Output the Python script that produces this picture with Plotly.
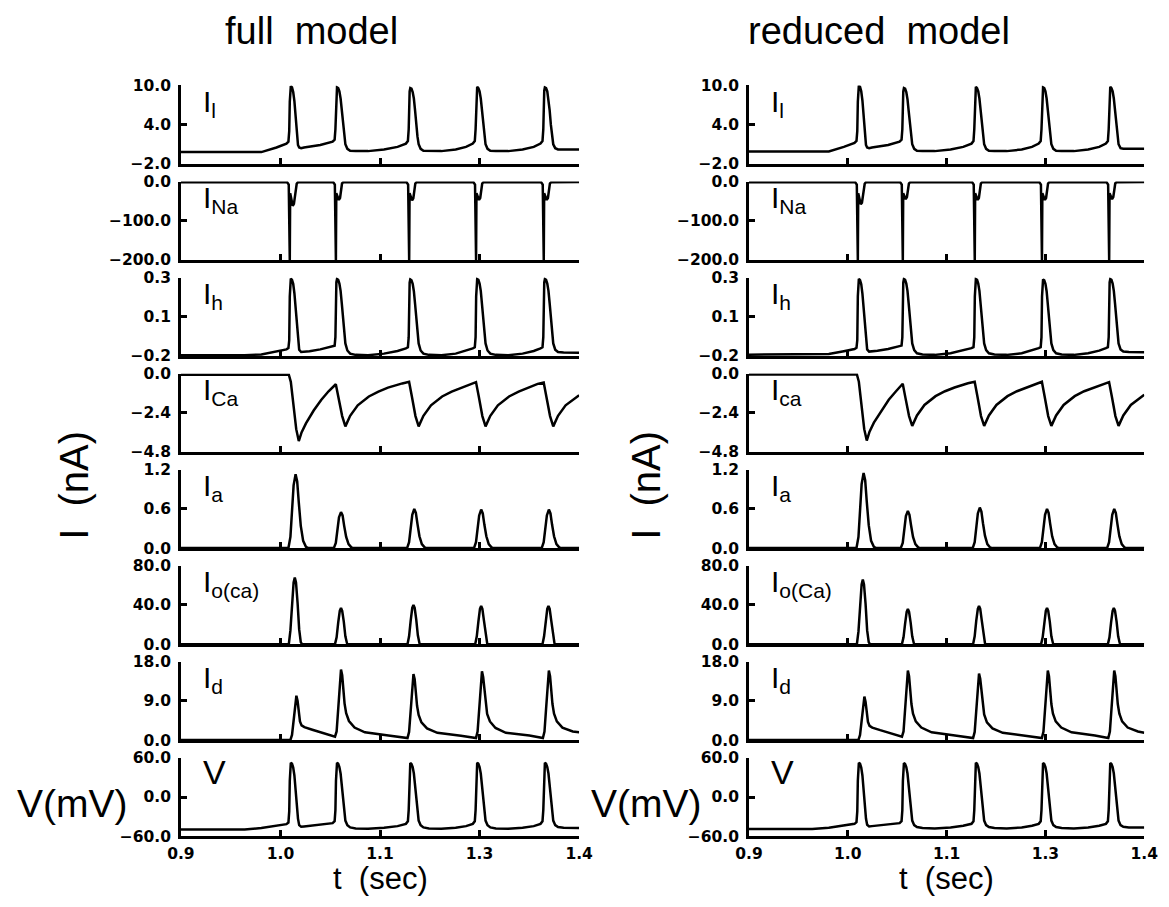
import plotly.graph_objects as go

W, H = 1169, 907

# ---------------- axes / labels ----------------
COLUMN_TITLES = ["full  model", "reduced  model"]
PANEL_NAMES_FULL = ["I<sub>l</sub>", "I<sub>Na</sub>", "I<sub>h</sub>", "I<sub>Ca</sub>",
                    "I<sub>a</sub>", "I<sub>o(ca)</sub>", "I<sub>d</sub>", "V"]
PANEL_NAMES_RED = ["I<sub>l</sub>", "I<sub>Na</sub>", "I<sub>h</sub>", "I<sub>ca</sub>",
                   "I<sub>a</sub>", "I<sub>o(Ca)</sub>", "I<sub>d</sub>", "V"]
Y_RANGES = [(-2.0, 10.0), (-200.0, 0.0), (-0.2, 0.3), (-4.8, 0.0),
            (0.0, 1.2), (0.0, 80.0), (0.0, 18.0), (-60.0, 60.0)]
Y_TICK_TEXT = [["\u22122.0", "4.0", "10.0"],
               ["\u2212200.0", "\u2212100.0", "0.0"],
               ["\u22120.2", "0.1", "0.3"],
               ["\u22124.8", "\u22122.4", "0.0"],
               ["0.0", "0.6", "1.2"],
               ["0.0", "40.0", "80.0"],
               ["0.0", "9.0", "18.0"],
               ["\u221260.0", "0.0", "60.0"]]
T_RANGE = (0.9, 1.4)
T_TICKS = [0.9, 1.025, 1.15, 1.275, 1.4]
T_TICK_TEXT = ["0.9", "1.0", "1.1", "1.3", "1.4"]

# ================= full model =================
# shared time base of the V-shaped traces (V, I_l, I_h)
T_SPK_FULL = [0.900, 0.980, 1.001, 1.020,
              1.0325, 1.035, 1.036, 1.0367, 1.0372, 1.038, 1.0395, 1.041, 1.0425, 1.044, 1.0455, 1.047, 1.0485, 1.051, 1.0545, 1.0615,
              1.075,
              1.0905, 1.093, 1.094, 1.0947, 1.0952, 1.096, 1.0975, 1.099, 1.1005, 1.102, 1.1035, 1.105, 1.1065, 1.109, 1.1125, 1.1195,
              1.135, 1.155, 1.172,
              1.1825, 1.185, 1.186, 1.1867, 1.1872, 1.188, 1.1895, 1.191, 1.1925, 1.194, 1.1955, 1.197, 1.1985, 1.201, 1.2045, 1.2115,
              1.227, 1.245, 1.258,
              1.2665, 1.269, 1.270, 1.2707, 1.2712, 1.272, 1.2735, 1.275, 1.2765, 1.278, 1.2795, 1.281, 1.2825, 1.285, 1.2885, 1.2955,
              1.311, 1.329, 1.343,
              1.3515, 1.354, 1.355, 1.3557, 1.3562, 1.357, 1.3585, 1.360, 1.3615, 1.363, 1.3645, 1.366, 1.3675, 1.370, 1.3735, 1.3805,
              1.390, 1.400]
V_FULL = [-49.5, -49.5, -47.5, -44.5,
          -41.5, -39.0, -22.0, 25.0, 45.0, 52.5, 51.0, 45.0, 33.0, 12.0, -15.0, -33.0, -43.0, -45.5, -45.0, -44.0,
          -42.5,
          -40.0, -37.0, -20.0, 25.0, 45.0, 52.5, 51.0, 46.0, 36.0, 18.0, -5.0, -24.0, -36.0, -43.0, -46.5, -48.0,
          -48.5, -47.0, -44.5,
          -41.0, -37.0, -20.0, 25.0, 45.0, 52.0, 50.5, 46.0, 36.0, 18.0, -5.0, -24.0, -36.0, -43.0, -46.5, -48.0,
          -48.5, -47.0, -44.5,
          -41.0, -37.0, -20.0, 25.0, 45.0, 52.5, 51.0, 46.0, 36.0, 18.0, -5.0, -24.0, -36.0, -43.0, -46.5, -48.0,
          -48.5, -47.0, -44.5,
          -41.0, -37.0, -20.0, 25.0, 45.0, 52.5, 51.0, 46.0, 36.0, 18.0, -5.0, -24.0, -36.0, -43.0, -46.0, -47.0,
          -47.5, -47.5]
I_L_FULL = [-0.2, -0.2, -0.2, 0.5,
            1.1, 1.4, 3.0, 7.5, 9.3, 9.9, 9.7, 9.0, 7.6, 5.0, 2.3, 0.9, 0.5, 0.4, 0.5, 0.6,
            0.9,
            1.4, 1.7, 3.3, 7.5, 9.2, 9.7, 9.6, 9.1, 8.0, 6.2, 4.0, 2.2, 1.0, 0.3, 0.0, -0.05,
            -0.05, 0.2, 0.6,
            1.1, 1.5, 3.3, 7.5, 9.1, 9.6, 9.5, 9.0, 8.0, 6.2, 4.0, 2.2, 1.0, 0.3, 0.0, -0.05,
            -0.05, 0.2, 0.6,
            1.1, 1.5, 3.3, 7.5, 9.2, 9.8, 9.6, 9.1, 8.0, 6.2, 4.0, 2.2, 1.0, 0.3, 0.0, -0.05,
            -0.05, 0.2, 0.6,
            1.1, 1.5, 3.3, 7.5, 9.2, 9.7, 9.6, 9.1, 8.0, 6.2, 4.0, 2.2, 1.0, 0.4, 0.2, 0.2,
            0.2, 0.2]
I_H_FULL = [-0.195, -0.195, -0.190, -0.172,
            -0.158, -0.150, -0.100, 0.180, 0.270, 0.293, 0.285, 0.260, 0.200, 0.100, -0.020, -0.110, -0.160, -0.175, -0.174, -0.170,
            -0.158,
            -0.142, -0.135, -0.080, 0.180, 0.270, 0.290, 0.285, 0.262, 0.215, 0.135, 0.030, -0.060, -0.120, -0.165, -0.185, -0.193,
            -0.195, -0.185, -0.168,
            -0.152, -0.145, -0.080, 0.180, 0.268, 0.288, 0.283, 0.260, 0.213, 0.133, 0.030, -0.060, -0.120, -0.165, -0.185, -0.193,
            -0.195, -0.185, -0.168,
            -0.152, -0.145, -0.080, 0.180, 0.270, 0.290, 0.285, 0.262, 0.215, 0.135, 0.030, -0.060, -0.120, -0.165, -0.185, -0.193,
            -0.195, -0.185, -0.168,
            -0.152, -0.145, -0.080, 0.180, 0.270, 0.290, 0.285, 0.262, 0.215, 0.135, 0.030, -0.060, -0.120, -0.160, -0.175, -0.178,
            -0.180, -0.180]
T_NA_FULL = [0.900,
             1.0334, 1.0354, 1.0361, 1.0367, 1.0372, 1.0389, 1.0404, 1.0419, 1.0439, 1.0454, 1.0469,
             1.0913, 1.0933, 1.0940, 1.0946, 1.0951, 1.0968, 1.0983, 1.0998, 1.1011, 1.1023, 1.1038,
             1.1833, 1.1853, 1.1860, 1.1866, 1.1871, 1.1888, 1.1903, 1.1918, 1.1931, 1.1943, 1.1958,
             1.2673, 1.2693, 1.2700, 1.2706, 1.2711, 1.2728, 1.2743, 1.2758, 1.2771, 1.2783, 1.2798,
             1.3523, 1.3543, 1.3550, 1.3556, 1.3561, 1.3578, 1.3593, 1.3608, 1.3621, 1.3633, 1.3648,
             1.400]
I_NA_FULL = [-2,
             -2, -8, -200, -200, -30, -50, -62, -57, -30, -6, -2,
             -2, -8, -200, -200, -30, -40, -47, -42, -20, -5, -2,
             -2, -8, -200, -200, -30, -40, -48, -43, -20, -5, -2,
             -2, -8, -200, -200, -30, -40, -47, -42, -20, -5, -2,
             -2, -8, -200, -200, -30, -40, -47, -42, -20, -5, -2,
             -1]
T_CA_FULL = [0.900, 1.0355, 1.038, 1.0415, 1.0448, 1.048, 1.0515, 1.057, 1.0667, 1.0761, 1.0854, 1.0945,
             1.098, 1.1025, 1.1065, 1.1095, 1.1125, 1.122, 1.136, 1.148, 1.160, 1.178, 1.1865,
             1.190, 1.1945, 1.1985, 1.2015, 1.2045, 1.214, 1.228, 1.240, 1.252, 1.264, 1.2705,
             1.274, 1.2785, 1.2825, 1.2855, 1.2885, 1.298, 1.312, 1.324, 1.336, 1.348, 1.3555,
             1.359, 1.3635, 1.3675, 1.3705, 1.3735, 1.383, 1.397, 1.400]
I_CA_FULL = [-0.07, -0.07, -0.5, -2.0, -3.4, -4.13, -3.6, -3.05, -2.26, -1.61, -1.08, -0.65,
             -1.5, -2.6, -3.23, -2.9, -2.58, -1.94, -1.40, -1.10, -0.86, -0.60, -0.50,
             -1.4, -2.6, -3.23, -2.9, -2.58, -1.94, -1.40, -1.10, -0.86, -0.62, -0.52,
             -1.4, -2.6, -3.23, -2.9, -2.58, -1.94, -1.40, -1.10, -0.86, -0.63, -0.54,
             -1.4, -2.6, -3.23, -2.9, -2.58, -1.94, -1.40, -1.33]
T_A_FULL = [0.900,
            1.035, 1.0375, 1.0395, 1.0415, 1.044, 1.046, 1.048, 1.0505, 1.0535, 1.057, 1.060,
            1.092, 1.0945, 1.0965, 1.0985, 1.101, 1.103, 1.105, 1.1075, 1.1105, 1.114, 1.117,
            1.184, 1.1865, 1.1885, 1.1905, 1.193, 1.195, 1.197, 1.1995, 1.2025, 1.206, 1.209,
            1.268, 1.2705, 1.2725, 1.2745, 1.277, 1.279, 1.281, 1.2835, 1.2865, 1.290, 1.293,
            1.353, 1.3555, 1.3575, 1.3595, 1.362, 1.364, 1.366, 1.3685, 1.3715, 1.375, 1.378,
            1.400]
I_A_FULL = [0,
            0, 0.17, 0.5, 0.96, 1.13, 1.02, 0.7, 0.34, 0.11, 0.02, 0,
            0, 0.08, 0.25, 0.47, 0.55, 0.5, 0.34, 0.17, 0.06, 0.01, 0,
            0, 0.09, 0.27, 0.51, 0.6, 0.54, 0.37, 0.18, 0.06, 0.01, 0,
            0, 0.09, 0.27, 0.5, 0.59, 0.53, 0.36, 0.18, 0.06, 0.01, 0,
            0, 0.09, 0.27, 0.5, 0.59, 0.53, 0.36, 0.18, 0.06, 0.01, 0,
            0]
T_O_FULL = [0.900,
            1.0355, 1.0375, 1.0395, 1.0415, 1.043, 1.0445, 1.0465, 1.0485, 1.0505, 1.052,
            1.0935, 1.0955, 1.0975, 1.0995, 1.101, 1.1025, 1.1045, 1.1065, 1.1085, 1.110,
            1.1845, 1.1865, 1.1885, 1.1905, 1.192, 1.1935, 1.1955, 1.1975, 1.1995, 1.201,
            1.2695, 1.2715, 1.2735, 1.2755, 1.277, 1.2785, 1.2805, 1.2825, 1.2845, 1.286,
            1.354, 1.356, 1.358, 1.360, 1.3615, 1.363, 1.365, 1.367, 1.369, 1.3705,
            1.400]
I_O_FULL = [0,
            0, 14, 41, 63, 68, 63, 42, 15, 2, 0,
            0, 7, 22, 34, 37, 34, 23, 8, 1, 0,
            0, 8, 24, 37, 40, 37, 25, 9, 1, 0,
            0, 8, 23, 36, 39, 36, 24, 9, 1, 0,
            0, 8, 23, 36, 39, 36, 24, 9, 1, 0,
            0]
T_D_FULL = [0.900, 1.0375,
            1.0395, 1.0415, 1.0435, 1.045, 1.0465, 1.048, 1.0495, 1.0515, 1.055,
            1.065, 1.080, 1.0935,
            1.0955, 1.0975, 1.0995, 1.101, 1.1025, 1.104, 1.1055, 1.1075, 1.111, 1.118, 1.131, 1.1606, 1.1845,
            1.1865, 1.1885, 1.1905, 1.192, 1.1935, 1.195, 1.1965, 1.1985, 1.202, 1.209, 1.222, 1.2516, 1.2705,
            1.2725, 1.2745, 1.2765, 1.278, 1.2795, 1.281, 1.2825, 1.2845, 1.288, 1.295, 1.308, 1.3376, 1.3545,
            1.3565, 1.3585, 1.3605, 1.362, 1.3635, 1.365, 1.3665, 1.3685, 1.372, 1.379, 1.392, 1.400]
I_D_FULL = [0.05, 0.05,
            1.2, 4.6, 8.7, 10.2, 9.0, 6.5, 4.3, 3.4, 3.0,
            2.4, 1.5, 0.8,
            2.0, 7.3, 13.8, 16.2, 14.9, 11.7, 8.4, 6.2, 4.4, 2.9, 1.8, 1.1, 0.5,
            1.9, 6.8, 12.9, 15.2, 14.0, 11.0, 7.9, 5.8, 4.1, 2.7, 1.7, 1.0, 0.5,
            2.0, 7.1, 13.4, 15.8, 14.5, 11.4, 8.2, 6.0, 4.3, 2.8, 1.7, 1.1, 0.5,
            2.0, 7.2, 13.6, 16.0, 14.7, 11.5, 8.3, 6.1, 4.3, 2.9, 2.0, 1.8]

# ================= reduced model =================
T_SPK_RED = [0.900, 0.980, 1.001, 1.020,
             1.0335, 1.036, 1.037, 1.0377, 1.0382, 1.039, 1.0405, 1.042, 1.0435, 1.045, 1.0465, 1.048, 1.0495, 1.052, 1.0555, 1.0625,
             1.076,
             1.0905, 1.093, 1.094, 1.0947, 1.0952, 1.096, 1.0975, 1.099, 1.1005, 1.102, 1.1035, 1.105, 1.1065, 1.109, 1.1125, 1.1195,
             1.135, 1.155, 1.171,
             1.1815, 1.184, 1.185, 1.1857, 1.1862, 1.187, 1.1885, 1.190, 1.1915, 1.193, 1.1945, 1.196, 1.1975, 1.200, 1.2035, 1.2105,
             1.226, 1.245, 1.258,
             1.2665, 1.269, 1.270, 1.2707, 1.2712, 1.272, 1.2735, 1.275, 1.2765, 1.278, 1.2795, 1.281, 1.2825, 1.285, 1.2885, 1.2955,
             1.311, 1.329, 1.343,
             1.3515, 1.354, 1.355, 1.3557, 1.3562, 1.357, 1.3585, 1.360, 1.3615, 1.363, 1.3645, 1.366, 1.3675, 1.370, 1.3735, 1.3805,
             1.390, 1.400]
V_RED = [-49.0, -49.0, -47.0, -44.0,
         -41.0, -38.5, -22.0, 25.0, 45.0, 52.5, 51.0, 45.0, 33.0, 12.0, -15.0, -33.0, -42.5, -45.0, -44.5, -43.5,
         -42.0,
         -40.0, -37.0, -20.0, 25.0, 45.0, 52.0, 50.5, 46.0, 36.0, 18.0, -5.0, -24.0, -36.0, -43.0, -46.0, -47.5,
         -48.0, -46.5, -44.0,
         -41.0, -37.0, -20.0, 25.0, 45.0, 52.5, 51.0, 46.0, 36.0, 18.0, -5.0, -24.0, -36.0, -43.0, -46.0, -47.5,
         -48.0, -46.5, -44.0,
         -41.0, -37.0, -20.0, 25.0, 45.0, 52.0, 50.5, 46.0, 36.0, 18.0, -5.0, -24.0, -36.0, -43.0, -46.0, -47.5,
         -48.0, -46.5, -44.0,
         -41.0, -37.0, -20.0, 25.0, 45.0, 52.0, 50.5, 46.0, 36.0, 18.0, -5.0, -24.0, -36.0, -43.0, -45.5, -46.5,
         -46.5, -46.5]
I_L_RED = [-0.1, -0.1, -0.1, 0.6,
           1.2, 1.5, 3.0, 7.5, 9.4, 10.0, 9.8, 9.1, 7.7, 5.0, 2.3, 0.9, 0.5, 0.4, 0.5, 0.6,
           0.9,
           1.4, 1.7, 3.3, 7.5, 9.1, 9.6, 9.5, 9.0, 7.9, 6.1, 4.0, 2.2, 1.0, 0.3, 0.0, -0.05,
           -0.05, 0.2, 0.6,
           1.1, 1.5, 3.3, 7.5, 9.3, 9.8, 9.6, 9.1, 8.0, 6.2, 4.0, 2.2, 1.0, 0.3, 0.0, -0.05,
           -0.05, 0.2, 0.6,
           1.1, 1.5, 3.3, 7.5, 9.2, 9.7, 9.6, 9.1, 8.0, 6.2, 4.0, 2.2, 1.0, 0.3, 0.0, -0.05,
           -0.05, 0.2, 0.6,
           1.1, 1.5, 3.3, 7.5, 9.3, 9.8, 9.6, 9.1, 8.0, 6.2, 4.0, 2.2, 1.0, 0.4, 0.3, 0.3,
           0.3, 0.3]
I_H_RED = [-0.192, -0.192, -0.188, -0.170,
           -0.156, -0.148, -0.100, 0.180, 0.270, 0.292, 0.284, 0.258, 0.198, 0.098, -0.022, -0.110, -0.158, -0.172, -0.171, -0.167,
           -0.156,
           -0.141, -0.134, -0.080, 0.180, 0.270, 0.290, 0.285, 0.262, 0.215, 0.135, 0.030, -0.060, -0.120, -0.163, -0.183, -0.191,
           -0.193, -0.183, -0.166,
           -0.150, -0.144, -0.080, 0.180, 0.270, 0.290, 0.285, 0.262, 0.215, 0.135, 0.030, -0.060, -0.120, -0.163, -0.183, -0.191,
           -0.193, -0.183, -0.166,
           -0.150, -0.144, -0.080, 0.180, 0.268, 0.288, 0.283, 0.260, 0.213, 0.133, 0.030, -0.060, -0.120, -0.163, -0.183, -0.191,
           -0.193, -0.183, -0.166,
           -0.150, -0.144, -0.080, 0.180, 0.270, 0.290, 0.285, 0.262, 0.215, 0.135, 0.030, -0.060, -0.120, -0.158, -0.172, -0.175,
           -0.177, -0.177]
T_NA_RED = [0.900,
            1.0344, 1.0364, 1.0371, 1.0377, 1.0382, 1.0399, 1.0414, 1.0429, 1.0449, 1.0464, 1.0479,
            1.0913, 1.0933, 1.0940, 1.0946, 1.0951, 1.0968, 1.0983, 1.0998, 1.1011, 1.1023, 1.1038,
            1.1823, 1.1843, 1.1850, 1.1856, 1.1861, 1.1878, 1.1893, 1.1908, 1.1921, 1.1933, 1.1948,
            1.2673, 1.2693, 1.2700, 1.2706, 1.2711, 1.2728, 1.2743, 1.2758, 1.2771, 1.2783, 1.2798,
            1.3523, 1.3543, 1.3550, 1.3556, 1.3561, 1.3578, 1.3593, 1.3608, 1.3621, 1.3633, 1.3648,
            1.400]
I_NA_RED = [-2,
            -2, -8, -200, -200, -30, -48, -58, -54, -28, -6, -2,
            -2, -8, -200, -200, -30, -38, -45, -40, -20, -5, -2,
            -2, -8, -200, -200, -30, -40, -47, -42, -20, -5, -2,
            -2, -8, -200, -200, -30, -40, -47, -42, -20, -5, -2,
            -2, -8, -200, -200, -30, -38, -45, -40, -20, -5, -2,
            -1]
T_CA_RED = [0.900, 1.0365, 1.039, 1.0425, 1.0458, 1.049, 1.0525, 1.058, 1.0675, 1.0768, 1.086, 1.0945,
            1.098, 1.1025, 1.1065, 1.1095, 1.1125, 1.122, 1.136, 1.148, 1.160, 1.177, 1.1855,
            1.189, 1.1935, 1.1975, 1.2005, 1.2035, 1.213, 1.227, 1.239, 1.251, 1.264, 1.2705,
            1.274, 1.2785, 1.2825, 1.2855, 1.2885, 1.298, 1.312, 1.324, 1.336, 1.348, 1.3555,
            1.359, 1.3635, 1.3675, 1.3705, 1.3735, 1.383, 1.397, 1.400]
I_CA_RED = [-0.05, -0.05, -0.5, -2.0, -3.4, -4.1, -3.55, -3.0, -2.25, -1.6, -1.08, -0.62,
            -1.5, -2.6, -3.2, -2.88, -2.56, -1.92, -1.38, -1.08, -0.85, -0.59, -0.50,
            -1.4, -2.6, -3.2, -2.88, -2.56, -1.92, -1.38, -1.08, -0.85, -0.60, -0.50,
            -1.4, -2.6, -3.2, -2.88, -2.56, -1.92, -1.38, -1.08, -0.85, -0.62, -0.52,
            -1.4, -2.6, -3.2, -2.88, -2.56, -1.92, -1.38, -1.30]
T_A_RED = [0.900,
           1.036, 1.0385, 1.0405, 1.0425, 1.045, 1.047, 1.049, 1.0515, 1.0545, 1.058, 1.061,
           1.092, 1.0945, 1.0965, 1.0985, 1.101, 1.103, 1.105, 1.1075, 1.1105, 1.114, 1.117,
           1.183, 1.1855, 1.1875, 1.1895, 1.192, 1.194, 1.196, 1.1985, 1.2015, 1.205, 1.208,
           1.268, 1.2705, 1.2725, 1.2745, 1.277, 1.279, 1.281, 1.2835, 1.2865, 1.290, 1.293,
           1.353, 1.3555, 1.3575, 1.3595, 1.362, 1.364, 1.366, 1.3685, 1.3715, 1.375, 1.378,
           1.400]
I_A_RED = [0,
           0, 0.17, 0.51, 0.98, 1.15, 1.04, 0.71, 0.35, 0.11, 0.02, 0,
           0, 0.08, 0.26, 0.49, 0.57, 0.51, 0.35, 0.17, 0.06, 0.01, 0,
           0, 0.09, 0.28, 0.53, 0.62, 0.56, 0.38, 0.19, 0.06, 0.01, 0,
           0, 0.09, 0.27, 0.51, 0.6, 0.54, 0.37, 0.18, 0.06, 0.01, 0,
           0, 0.09, 0.27, 0.51, 0.6, 0.54, 0.37, 0.18, 0.06, 0.01, 0,
           0]
T_O_RED = [0.900,
           1.0365, 1.0385, 1.0405, 1.0425, 1.044, 1.0455, 1.0475, 1.0495, 1.0515, 1.053,
           1.0935, 1.0955, 1.0975, 1.0995, 1.101, 1.1025, 1.1045, 1.1065, 1.1085, 1.110,
           1.1835, 1.1855, 1.1875, 1.1895, 1.191, 1.1925, 1.1945, 1.1965, 1.1985, 1.200,
           1.2695, 1.2715, 1.2735, 1.2755, 1.277, 1.2785, 1.2805, 1.2825, 1.2845, 1.286,
           1.354, 1.356, 1.358, 1.360, 1.3615, 1.363, 1.365, 1.367, 1.369, 1.3705,
           1.400]
I_O_RED = [0,
           0, 13, 40, 61, 66, 61, 41, 14, 2, 0,
           0, 7, 21, 33, 36, 33, 22, 8, 1, 0,
           0, 8, 24, 36, 39, 36, 24, 9, 1, 0,
           0, 7, 22, 34, 37, 34, 23, 8, 1, 0,
           0, 7, 22, 34, 37, 34, 23, 8, 1, 0,
           0]
T_D_RED = [0.900, 1.0385,
           1.0405, 1.0425, 1.0445, 1.046, 1.0475, 1.049, 1.0505, 1.0525, 1.056,
           1.066, 1.080, 1.0935,
           1.0955, 1.0975, 1.0995, 1.101, 1.1025, 1.104, 1.1055, 1.1075, 1.111, 1.118, 1.131, 1.1606, 1.1835,
           1.1855, 1.1875, 1.1895, 1.191, 1.1925, 1.194, 1.1955, 1.1975, 1.201, 1.208, 1.221, 1.2506, 1.2705,
           1.2725, 1.2745, 1.2765, 1.278, 1.2795, 1.281, 1.2825, 1.2845, 1.288, 1.295, 1.308, 1.3376, 1.3545,
           1.3565, 1.3585, 1.3605, 1.362, 1.3635, 1.365, 1.3665, 1.3685, 1.372, 1.379, 1.392, 1.400]
I_D_RED = [0.05, 0.05,
           1.2, 4.5, 8.5, 10.0, 8.8, 6.4, 4.2, 3.3, 2.9,
           2.3, 1.5, 0.8,
           2.0, 7.2, 13.6, 16.0, 14.7, 11.5, 8.3, 6.1, 4.3, 2.9, 1.8, 1.1, 0.5,
           1.9, 6.9, 13.0, 15.3, 14.1, 11.1, 8.0, 5.9, 4.1, 2.7, 1.7, 1.0, 0.5,
           2.0, 7.2, 13.6, 16.0, 14.7, 11.5, 8.3, 6.1, 4.3, 2.9, 1.8, 1.1, 0.5,
           2.0, 7.2, 13.6, 16.0, 14.7, 11.5, 8.3, 6.1, 4.3, 2.9, 2.0, 1.7]

COLUMNS = [
    (PANEL_NAMES_FULL, [(T_SPK_FULL, I_L_FULL), (T_NA_FULL, I_NA_FULL), (T_SPK_FULL, I_H_FULL),
                        (T_CA_FULL, I_CA_FULL), (T_A_FULL, I_A_FULL), (T_O_FULL, I_O_FULL),
                        (T_D_FULL, I_D_FULL), (T_SPK_FULL, V_FULL)]),
    (PANEL_NAMES_RED, [(T_SPK_RED, I_L_RED), (T_NA_RED, I_NA_RED), (T_SPK_RED, I_H_RED),
                       (T_CA_RED, I_CA_RED), (T_A_RED, I_A_RED), (T_O_RED, I_O_RED),
                       (T_D_RED, I_D_RED), (T_SPK_RED, V_RED)]),
]

# ---------------- page geometry (pixels) ----------------
COL_X = [(171, 579), (753, 1158)]
ROW_TOP0, ROW_PITCH, ROW_H = 78.0, 98.0, 80.0
TITLE_X = [305, 886]
YTITLE_X = [62, 648]
VTITLE_X = [60, 648]

TICK_FONT = dict(family="DejaVu Sans", size=15.5, color="black", weight="bold")
LABEL_FONT = "Liberation Sans, Arial, sans-serif"
AX_W = 2.7


def fx(px):
    return px / W


def fy(py):
    return 1 - py / H


fig = go.Figure()
annotations = []
n = 0
for c, (names, series) in enumerate(COLUMNS):
    x0, x1 = COL_X[c]
    for r, (tt, vv) in enumerate(series):
        n += 1
        sfx = "" if n == 1 else str(n)
        top = ROW_TOP0 + r * ROW_PITCH
        bot = top + ROW_H
        lo, hi = Y_RANGES[r]
        fig.add_trace(go.Scatter(x=tt, y=vv, mode="lines",
                                 line=dict(color="black", width=2.5),
                                 xaxis="x" + sfx, yaxis="y" + sfx,
                                 showlegend=False, hoverinfo="skip"))
        last = r == len(series) - 1
        fig.layout["xaxis" + sfx] = dict(
            domain=[fx(x0), fx(x1)], anchor="y" + sfx, range=list(T_RANGE),
            tickvals=T_TICKS, ticktext=T_TICK_TEXT, showticklabels=last,
            ticks="inside", ticklen=6, tickwidth=AX_W, tickcolor="black",
            showline=True, linewidth=AX_W, linecolor="black",
            showgrid=False, zeroline=False, tickfont=TICK_FONT,
            ticklabelstandoff=1, fixedrange=True)
        fig.layout["yaxis" + sfx] = dict(
            domain=[fy(bot), fy(top)], anchor="x" + sfx, range=[lo, hi],
            tickvals=[lo, (lo + hi) / 2, hi], ticktext=Y_TICK_TEXT[r],
            ticks="inside", ticklen=6, tickwidth=AX_W, tickcolor="black",
            showline=True, linewidth=AX_W, linecolor="black",
            showgrid=False, zeroline=False, tickfont=TICK_FONT,
            ticklabelstandoff=4, fixedrange=True)
        is_v = names[r] == "V"
        annotations.append(dict(
            text=names[r], xref="paper", yref="paper",
            x=fx(x0 + 21), y=fy(top - (7 if is_v else 3)), xanchor="left", yanchor="top",
            showarrow=False, font=dict(family=LABEL_FONT, size=34 if is_v else 30, color="black")))

    annotations.append(dict(text=COLUMN_TITLES[c], xref="paper", yref="paper",
                            x=fx(TITLE_X[c]), y=fy(22), xanchor="center", yanchor="middle",
                            showarrow=False, font=dict(family=LABEL_FONT, size=38, color="black")))
    annotations.append(dict(text="I  (nA)", xref="paper", yref="paper", textangle=-90,
                            x=fx(YTITLE_X[c]), y=fy(486), xanchor="center", yanchor="middle",
                            showarrow=False, font=dict(family=LABEL_FONT, size=40, color="black")))
    annotations.append(dict(text="V(mV)", xref="paper", yref="paper",
                            x=fx(VTITLE_X[c]), y=fy(811), xanchor="center", yanchor="middle",
                            showarrow=False, font=dict(family=LABEL_FONT, size=39, color="black")))
    annotations.append(dict(text="t  (sec)", xref="paper", yref="paper",
                            x=fx((x0 + x1) / 2), y=fy(907), xanchor="center", yanchor="bottom",
                            showarrow=False, font=dict(family=LABEL_FONT, size=31, color="black")))

fig.update_layout(width=W, height=H, margin=dict(l=0, r=0, t=0, b=0),
                  paper_bgcolor="white", plot_bgcolor="white",
                  annotations=annotations, showlegend=False)

fig.write_html("out.html")
